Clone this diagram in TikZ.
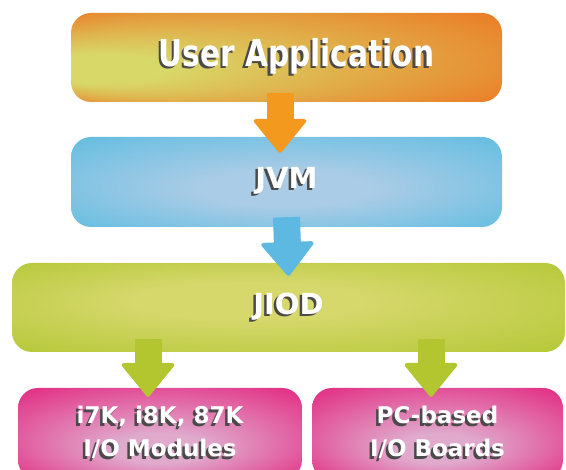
\documentclass[tikz,border=0pt]{standalone}
\usepackage{fontspec}
\newfontfamily\boxfont{DejaVu Sans}
\newfontfamily\appfont[FakeStretch=0.8]{DejaVu Sans}
\usetikzlibrary{arrows.meta}

\definecolor{appOrange}{HTML}{EC7622}
\definecolor{appLight}{HTML}{D8D868}
\definecolor{vmBlue}{HTML}{58BBE0}
\definecolor{vmLight}{HTML}{AACCE6}
\definecolor{iodGreen}{HTML}{B0C530}
\definecolor{iodLight}{HTML}{D6D86C}
\definecolor{ioPink}{HTML}{E3207B}
\definecolor{ioLight}{HTML}{E0AACD}
\definecolor{flowOrange}{HTML}{F39A1E}
\definecolor{flowBlue}{HTML}{5DB9E2}
\definecolor{flowGreen}{HTML}{B3C630}
\definecolor{shadowGray}{HTML}{4A4A4A}

\pgfdeclareradialshading{glowUser}{\pgfpoint{-28bp}{-8bp}}{color(0bp)=(appLight); color(8bp)=(appLight); color(38bp)=(appOrange)}
\pgfdeclareradialshading{glowJVM}{\pgfpoint{0bp}{-5bp}}{color(0bp)=(vmLight); color(10bp)=(vmLight); color(40bp)=(vmBlue)}
\pgfdeclareradialshading{glowJIOD}{\pgfpoint{-5bp}{5bp}}{color(0bp)=(iodLight); color(10bp)=(iodLight); color(40bp)=(iodGreen)}
\pgfdeclareradialshading{glowIO}{\pgfpoint{0bp}{-10bp}}{color(0bp)=(ioLight); color(8bp)=(ioLight); color(38bp)=(ioPink)}

% white label with a grey drop shadow
\newcommand\shadowed[1]{\leavevmode\rlap{\hspace*{-2.5pt}\raisebox{-2.5pt}{\color{shadowGray}#1}}#1}

\tikzset{
  stage/.style={rounded corners=20pt, text=white, inner sep=0pt, align=center},
  flow/.style={line width=27pt, -{Triangle[width=56pt,length=35pt,line width=4pt,round]}}
}

\begin{document}
\begin{tikzpicture}[x=1pt,y=1pt]
    \useasboundingbox (0,0) rectangle (566,470);
    \clip (0,0) rectangle (566,470);
    \node[stage, shading=glowUser, minimum width=431pt, minimum height=89pt,
      font=\appfont\bfseries\fontsize{37}{37}\selectfont] (user) at (286.5,412.5) {\hspace*{20pt}\shadowed{User Application}};
    \node[stage, shading=glowJVM, minimum width=431pt, minimum height=90pt,
      font=\boxfont\bfseries\fontsize{29}{29}\selectfont] (jvm) at (286.5,288) {\shadowed{JVM}};
    \node[stage, shading=glowJIOD, minimum width=553pt, minimum height=89pt,
      font=\boxfont\bfseries\fontsize{29}{29}\selectfont] (jiod) at (288.5,162.5) {\shadowed{JIOD}};
    \node[stage, shading=glowIO, minimum width=284pt, minimum height=92pt,
      font=\boxfont\bfseries\fontsize{23}{33}\selectfont] (modules) at (160,36) {\shadowed{i7K, i8K, 87K}\\\shadowed{I/O Modules}};
    \node[stage, shading=glowIO, minimum width=251pt, minimum height=92pt,
      font=\boxfont\bfseries\fontsize{23}{33}\selectfont] (boards) at (437.5,36) {\shadowed{PC-based}\\\shadowed{I/O Boards}};

    % arrows between the layers
    \draw[flow, draw=flowOrange] ([xshift=-6.5pt,yshift=9pt]user.south) -- ([xshift=-6.5pt,yshift=-16pt]jvm.north);
    \draw[flow, draw=flowBlue] ([yshift=10pt]jvm.south) -- ([yshift=-13pt]jiod.north);
    \draw[flow, draw=flowGreen] ([yshift=13pt]jiod.south -| 148,0) -- ([yshift=-9pt]modules.north -| 148,0);
    \draw[flow, draw=flowGreen] ([yshift=13pt]jiod.south -| 431,0) -- ([yshift=-9pt]boards.north -| 431,0);
\end{tikzpicture}
\end{document}
